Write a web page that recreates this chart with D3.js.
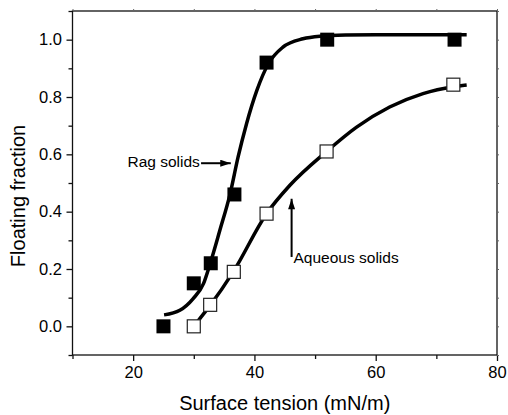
<!DOCTYPE html>
<html><head><meta charset="utf-8">
<script src="https://cdn.jsdelivr.net/npm/d3@7"></script>
<style>
body{margin:0;background:#fff}
svg text{font-family:"Liberation Sans",Arial,Helvetica,sans-serif;fill:#000}
</style>
</head><body>
<svg id="c" width="508" height="415"></svg>
<script>
// ---- data ----
const ragX = [25, 30, 32.8, 36.7, 42, 52, 73];
const ragY = [0.0, 0.15, 0.22, 0.46, 0.92, 1.0, 1.0];
const aqX = [30, 32.7, 36.6, 42, 51.9, 72.8];
const aqY = [0.0, 0.075, 0.19, 0.393, 0.61, 0.843];
// fitted curves, sampled along the drawn line
const ragFitX = [25.1, 27.7, 29.9, 31.6, 32.7, 34.3, 36.0, 37.3, 38.7, 40.4, 42.3, 44.7, 48.0, 50.8, 55, 60, 75];
const ragFitY = [0.04, 0.056, 0.097, 0.149, 0.219, 0.335, 0.463, 0.59, 0.707, 0.823, 0.916, 0.974, 1.003, 1.012, 1.016, 1.017, 1.017];
const aqFitX = [30, 31.0, 32.7, 36.5, 42.0, 45.85, 51.9, 56.85, 62.3, 67.8, 72.8, 75];
const aqFitY = [0.0, 0.027, 0.073, 0.19, 0.393, 0.492, 0.61, 0.695, 0.765, 0.812, 0.836, 0.842];
const xTickVals = [20, 40, 60, 80];
const xMinorVals = [10, 30, 50, 70];
const yTickVals = [0.0, 0.2, 0.4, 0.6, 0.8, 1.0];
const yMinorVals = [-0.1, 0.1, 0.3, 0.5, 0.7, 0.9, 1.1];
const xTitle = "Surface tension (mN/m)";
const yTitle = "Floating fraction";
// annotations: [label, textX, textY, arrowFromX, arrowFromY, arrowToX, arrowToY]
const annRag = ["Rag solids", 31.0, 0.555, 31.2, 0.569, 36.1, 0.569];
const annAq = ["Aqueous solids", 46.45, 0.22, 46.13, 0.242, 46.13, 0.445];

// ---- chart ----
const svg = d3.select("#c");
svg.append("rect").attr("width",508).attr("height",415).attr("fill","#fff");
const L=72.5, R=497, T=11, B=355;
const x = d3.scaleLinear().domain([10,80]).range([L,R]);
const y = d3.scaleLinear().domain([-0.1,1.1]).range([B,T]);

// frame
svg.append("rect").attr("x",L).attr("y",T).attr("width",R-L).attr("height",B-T)
  .attr("fill","none").attr("stroke","#111").attr("stroke-width",1.3);

// left axis major
const gy = svg.append("g").attr("transform",`translate(${L},0)`)
  .call(d3.axisLeft(y).tickValues(yTickVals).tickFormat(d3.format(".1f")).tickSize(6).tickPadding(4.5));
gy.selectAll("text").style("font-size","16.5px");
// left minor
const gy2 = svg.append("g").attr("transform",`translate(${L},0)`)
  .call(d3.axisLeft(y).tickValues(yMinorVals).tickFormat("").tickSize(4));
// bottom major
const gx = svg.append("g").attr("transform",`translate(0,${B})`)
  .call(d3.axisBottom(x).tickValues(xTickVals).tickFormat(d3.format("d")).tickSize(6).tickPadding(5.5));
gx.selectAll("text").style("font-size","16.5px");
const gx2 = svg.append("g").attr("transform",`translate(0,${B})`)
  .call(d3.axisBottom(x).tickValues(xMinorVals).tickFormat("").tickSize(4));
// top & right tiny ticks
const gt = svg.append("g").attr("transform",`translate(0,${T})`)
  .call(d3.axisTop(x).tickValues(xTickVals.concat(xMinorVals)).tickFormat("").tickSize(2));
const gr = svg.append("g").attr("transform",`translate(${R},0)`)
  .call(d3.axisRight(y).tickValues(yTickVals.concat(yMinorVals)).tickFormat("").tickSize(2));
[gy,gy2,gx,gx2,gt,gr].forEach(g=>{
  g.select(".domain").remove();
  g.selectAll("line").attr("stroke","#111").attr("stroke-width",1.3);
  g.selectAll("text").attr("fill","#000").style("font-family",'"Liberation Sans",Arial,sans-serif');
});
gt.selectAll("line").attr("stroke","#666").attr("stroke-width",1);
gr.selectAll("line").attr("stroke","#666").attr("stroke-width",1);

// titles
svg.append("text").attr("x",(L+R)/2).attr("y",410).attr("text-anchor","middle")
  .style("font-size","20px").text(xTitle);
svg.append("text").attr("transform","translate(25,196) rotate(-90)").attr("text-anchor","middle")
  .style("font-size","20px").text(yTitle);

// curves
const line = d3.line().x(d=>x(d[0])).y(d=>y(d[1])).curve(d3.curveMonotoneX);
svg.append("path").datum(d3.zip(ragFitX, ragFitY)).attr("d",line)
  .attr("fill","none").attr("stroke","#000").attr("stroke-width",3.5).attr("stroke-linecap","butt");
svg.append("path").datum(d3.zip(aqFitX, aqFitY)).attr("d",line)
  .attr("fill","none").attr("stroke","#000").attr("stroke-width",3.5).attr("stroke-linecap","butt");

// markers
const s1 = 14, s2 = 13;
svg.append("g").selectAll("rect").data(d3.zip(ragX, ragY)).join("rect")
  .attr("x",d=>x(d[0])-s1/2).attr("y",d=>y(d[1])-s1/2).attr("width",s1).attr("height",s1)
  .attr("fill","#000");
svg.append("g").selectAll("rect").data(d3.zip(aqX, aqY)).join("rect")
  .attr("x",d=>x(d[0])-s2/2).attr("y",d=>y(d[1])-s2/2).attr("width",s2).attr("height",s2)
  .attr("fill","#fff").attr("stroke","#222").attr("stroke-width",1.2);

// annotations
svg.append("defs").append("marker").attr("id","ah").attr("viewBox","0 0 12 8")
  .attr("refX",12).attr("refY",4).attr("markerWidth",12).attr("markerHeight",7)
  .attr("markerUnits","userSpaceOnUse").attr("orient","auto")
  .append("path").attr("d","M0,0 L12,4 L0,8 Z").attr("fill","#000");
[annRag, annAq].forEach((a,i)=>{
  svg.append("line").attr("x1",x(a[3])).attr("y1",y(a[4])).attr("x2",x(a[5])).attr("y2",y(a[6]))
    .attr("stroke","#000").attr("stroke-width",2).attr("marker-end","url(#ah)");
  svg.append("text").attr("x",x(a[1])).attr("y",y(a[2]))
    .attr("text-anchor", i===0 ? "end" : "start")
    .style("font-size","15.5px").text(a[0]);
});
</script>
</body></html>
